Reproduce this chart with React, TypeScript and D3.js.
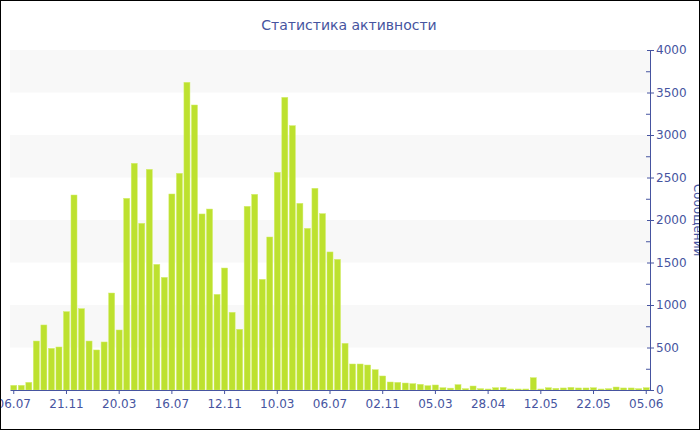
import React, { useEffect, useRef } from 'react';
import * as d3 from 'd3';

const tickLabels = ['06.07', '21.11', '20.03', '16.07', '12.11', '10.03', '06.07', '02.11', '05.03', '28.04', '12.05', '22.05', '05.06'];

const messages = [
  55, 55, 90, 576, 765, 490, 506, 922, 2294, 957,
  576, 471, 565, 1141, 706, 2255, 2667, 1961, 2596, 1478,
  1325, 2306, 2549, 3620, 3353, 2071, 2129, 1125, 1435, 914,
  714, 2161, 2302, 1302, 1800, 2561, 3443, 3110, 2196, 1902,
  2373, 2075, 1624, 1537, 549, 306, 306, 294, 239, 165,
  94, 90, 82, 75, 67, 51, 59, 27, 22, 63,
  16, 47, 16, 12, 27, 31, 12, 12, 12, 145,
  12, 27, 20, 24, 31, 24, 24, 27, 12, 16,
  35, 24, 24, 16, 27,
];

const yTicks = [0, 500, 1000, 1500, 2000, 2500, 3000, 3500, 4000];

const TEXT = '#4654a0';
const BAR = '#bde12f';
const FONT = 'DejaVu Sans, Verdana, sans-serif';

export default function App() {
  const svgRef = useRef<SVGSVGElement>(null);

  useEffect(() => {
    if (!svgRef.current) return;
    const W = 700;
    const H = 430;
    const left = 10;
    const right = 650;
    const top = 50;
    const bottom = 390;

    const svg = d3.select(svgRef.current);
    svg.selectAll('*').remove();
    svg.attr('width', W).attr('height', H);

    const x = d3
      .scaleBand<number>()
      .domain(d3.range(messages.length))
      .range([left, right])
      .paddingInner(0.2)
      .paddingOuter(0.1);

    const y = d3.scaleLinear().domain([0, 4000]).range([bottom, top]);

    // alternating bands
    const bands = [500, 1500, 2500, 3500];
    svg
      .append('g')
      .selectAll('rect')
      .data(bands)
      .enter()
      .append('rect')
      .attr('x', left)
      .attr('width', right - left)
      .attr('y', d => y(d + 500))
      .attr('height', d => y(d) - y(d + 500))
      .attr('fill', '#f8f8f8');

    svg
      .append('g')
      .selectAll('rect')
      .data(messages)
      .enter()
      .append('rect')
      .attr('x', (_d, i) => x(i) || 0)
      .attr('width', x.bandwidth())
      .attr('y', d => y(d))
      .attr('height', d => bottom - y(d))
      .attr('fill', BAR)
      .attr('stroke', '#d3ee6a')
      .attr('stroke-width', 0.5);

    // x axis
    const xAxis = d3
      .axisBottom(x)
      .tickValues(d3.range(0, messages.length, 7))
      .tickFormat((_d, i) => tickLabels[i])
      .tickSize(4)
      .tickSizeOuter(0);
    const gx = svg.append('g').attr('transform', `translate(0,${bottom})`).call(xAxis);
    gx.select('.domain').attr('stroke', TEXT);
    gx.selectAll('line').attr('stroke', TEXT);
    gx.selectAll('text')
      .attr('fill', TEXT)
      .attr('font-size', 12)
      .attr('font-family', FONT)
      .attr('dy', '0.9em');

    // y axis on the right
    const gMinor = svg.append('g').attr('transform', `translate(${right},0)`);
    gMinor
      .selectAll('line')
      .data(d3.range(250, 4000, 500))
      .enter()
      .append('line')
      .attr('x1', -4)
      .attr('x2', 0)
      .attr('y1', d => y(d) + 0.5)
      .attr('y2', d => y(d) + 0.5)
      .attr('stroke', TEXT);

    const yAxis = d3
      .axisRight(y)
      .tickValues(yTicks)
      .tickFormat(d3.format('d'))
      .tickSize(4)
      .tickSizeOuter(0)
      .tickPadding(2);
    const gy = svg.append('g').attr('transform', `translate(${right},0)`).call(yAxis);
    gy.select('.domain').attr('stroke', TEXT);
    gy.selectAll('.tick line').attr('stroke', TEXT).attr('x1', -3);
    gy.selectAll('text')
      .attr('fill', TEXT)
      .attr('font-size', 12)
      .attr('font-family', FONT);

    svg
      .append('text')
      .attr('transform', `translate(694,${(top + bottom) / 2}) rotate(90)`)
      .attr('text-anchor', 'middle')
      .attr('fill', TEXT)
      .attr('font-size', 12)
      .attr('font-family', FONT)
      .text('Сообщений');

    svg
      .append('text')
      .attr('x', 349)
      .attr('y', 30)
      .attr('text-anchor', 'middle')
      .attr('fill', TEXT)
      .attr('font-size', 14)
      .attr('font-family', FONT)
      .text('Статистика активности');

    svg
      .append('rect')
      .attr('x', 0.5)
      .attr('y', 0.5)
      .attr('width', W - 1)
      .attr('height', H - 1)
      .attr('fill', 'none')
      .attr('stroke', '#000');
  }, []);

  return (
    <>
      <style>{'body{margin:0}'}</style>
      <svg ref={svgRef} style={{ display: 'block' }}></svg>
    </>
  );
}
